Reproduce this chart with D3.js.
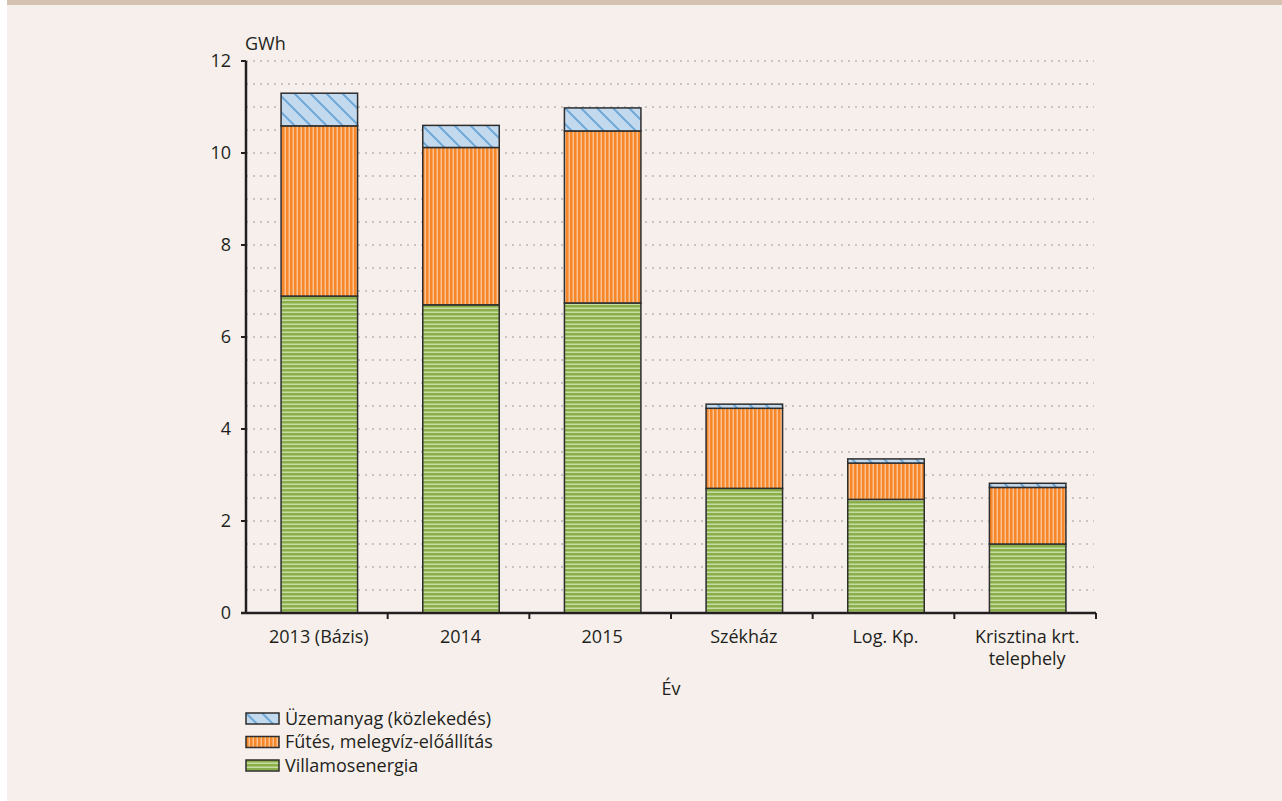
<!DOCTYPE html>
<html>
<head>
<meta charset="utf-8">
<script src="https://cdn.jsdelivr.net/npm/d3@7"></script>
<style>
  body { margin: 0; background: #ffffff; }
  text { font-family: "Open Sans", Lato, sans-serif; fill: #231f20; }
</style>
</head>
<body>
<div id="chart"></div>
<script>
// categories and series (GWh)
const categories = ["2013 (Bázis)", "2014", "2015", "Székház", "Log. Kp.", "Krisztina krt.\ntelephely"];
const villamos = [6.89, 6.70, 6.74, 2.71, 2.47, 1.50];
const futes = [3.70, 3.42, 3.74, 1.74, 0.79, 1.23];
const uzemanyag = [0.71, 0.48, 0.50, 0.09, 0.09, 0.09];
const seriesKeys = ["villamos", "futes", "uzemanyag"];
const seriesLabels = {
  uzemanyag: "Üzemanyag (közlekedés)",
  futes: "Fűtés, melegvíz-előállítás",
  villamos: "Villamosenergia"
};
const yTicks = [0, 2, 4, 6, 8, 10, 12];

const W = 1282, H = 801;
const margin = { top: 61, left: 246, right: 186, bottom: 188 };
const width = W - margin.left - margin.right;
const height = H - margin.top - margin.bottom;
const fontSize = 18;

const svg = d3.select("#chart").append("svg")
  .attr("width", W).attr("height", H);

// background
svg.append("rect").attr("x", 7).attr("y", 0).attr("width", W - 7).attr("height", H).attr("fill", "#f6efeb");
svg.append("rect").attr("x", 7).attr("y", 0).attr("width", W - 7).attr("height", 5).attr("fill", "#d5c2b0");

// patterns
const defs = svg.append("defs");
const pBlue = defs.append("pattern").attr("id", "p-uzemanyag")
  .attr("patternUnits", "userSpaceOnUse").attr("width", 16).attr("height", 16);
pBlue.append("rect").attr("width", 16).attr("height", 16).attr("fill", "#c3d9ee");
pBlue.append("path").attr("d", "M-4,-4 L20,20 M-4,12 L4,20 M12,-4 L20,4")
  .attr("stroke", "#6fa9d8").attr("stroke-width", 2);

const pOrange = defs.append("pattern").attr("id", "p-futes")
  .attr("patternUnits", "userSpaceOnUse").attr("width", 4).attr("height", 4);
pOrange.append("rect").attr("width", 4).attr("height", 4).attr("fill", "#f7882a");
pOrange.append("rect").attr("x", 2.5).attr("width", 1.5).attr("height", 4).attr("fill", "#fbc08f");

const pGreen = defs.append("pattern").attr("id", "p-villamos")
  .attr("patternUnits", "userSpaceOnUse").attr("width", 4).attr("height", 4);
pGreen.append("rect").attr("width", 4).attr("height", 4).attr("fill", "#8aae48");
pGreen.append("rect").attr("y", 2.5).attr("width", 4).attr("height", 1.5).attr("fill", "#c9dca8");

const g = svg.append("g").attr("transform", `translate(${margin.left},${margin.top})`);

const x = d3.scaleBand().domain(categories).range([2.5, width + 2.5]).paddingInner(0.46).paddingOuter(0.23);
const xBound = d3.scaleBand().domain(categories).range([0, width]);
const y = d3.scaleLinear().domain([0, 12]).range([height, 0]);

// dotted grid every 0.5
g.append("g").selectAll("line")
  .data(d3.range(0.5, 12.01, 0.5))
  .join("line")
    .attr("x1", 0).attr("x2", width - 2)
    .attr("y1", d => y(d)).attr("y2", d => y(d))
    .attr("stroke", "#9a9a9a").attr("stroke-width", 1.2)
    .attr("stroke-dasharray", "2,5");

// stacked bars
const data = categories.map((c, i) => ({ cat: c, villamos: villamos[i], futes: futes[i], uzemanyag: uzemanyag[i] }));
const stack = d3.stack().keys(seriesKeys)(data);

g.append("g").selectAll("g")
  .data(stack)
  .join("g")
    .attr("fill", d => `url(#p-${d.key})`)
  .selectAll("rect")
  .data(d => d)
  .join("rect")
    .attr("x", d => x(d.data.cat))
    .attr("y", d => y(d[1]))
    .attr("width", x.bandwidth())
    .attr("height", d => y(d[0]) - y(d[1]))
    .attr("stroke", "#2e2e2e").attr("stroke-width", 1.5);

// x axis
const xAxis = g.append("g").attr("transform", `translate(0,${height})`);
xAxis.append("line").attr("x1", -5).attr("x2", width).attr("y1", 0).attr("y2", 0)
  .attr("stroke", "#231f20").attr("stroke-width", 2.5);
xAxis.selectAll("line.tk")
  .data(categories.slice(1).map(c => xBound(c)).concat([width]))
  .join("line").attr("class", "tk")
    .attr("x1", d => d).attr("x2", d => d).attr("y1", 0).attr("y2", 6)
    .attr("stroke", "#231f20").attr("stroke-width", 2);
xAxis.selectAll("text.lbl")
  .data(categories)
  .join("text").attr("class", "lbl")
    .attr("text-anchor", "middle")
    .attr("font-size", fontSize)
    .each(function(d) {
      const lines = d.split("\n");
      const cx = xBound(d) + xBound.bandwidth() / 2 + 2;
      d3.select(this).selectAll("tspan").data(lines).join("tspan")
        .attr("x", cx).attr("y", (l, i) => 30 + i * 22).text(l => l);
    });

// y axis
const yAxis = g.append("g");
yAxis.append("line").attr("x1", 0).attr("x2", 0).attr("y1", 0).attr("y2", height)
  .attr("stroke", "#231f20").attr("stroke-width", 2.5);
yAxis.selectAll("line.tk")
  .data(yTicks)
  .join("line").attr("class", "tk")
    .attr("x1", -5).attr("x2", 0).attr("y1", d => y(d)).attr("y2", d => y(d))
    .attr("stroke", "#231f20").attr("stroke-width", 2);
yAxis.selectAll("text")
  .data(yTicks)
  .join("text")
    .attr("x", -15).attr("y", d => y(d)).attr("dy", "0.35em")
    .attr("text-anchor", "end").attr("font-size", fontSize)
    .text(d => d);

g.append("text").attr("x", -1).attr("y", -11).attr("font-size", fontSize).text("GWh");
g.append("text").attr("x", xBound(categories[2]) + xBound.bandwidth()).attr("y", 634)
  .attr("text-anchor", "middle").attr("font-size", fontSize).text("Év");

// legend
const legend = svg.append("g").attr("transform", "translate(246,713)")
  .selectAll("g")
  .data(["uzemanyag", "futes", "villamos"])
  .join("g")
    .attr("transform", (d, i) => `translate(0,${i * 23.5})`);
legend.append("rect")
  .attr("x", 0).attr("y", 0).attr("width", 33).attr("height", 11)
  .attr("fill", d => `url(#p-${d})`)
  .attr("stroke", "#2e2e2e").attr("stroke-width", 1.5);
legend.append("text")
  .attr("x", 39).attr("y", 5.5).attr("dy", "0.36em").attr("font-size", fontSize)
  .text(d => seriesLabels[d]);
</script>
</body>
</html>
